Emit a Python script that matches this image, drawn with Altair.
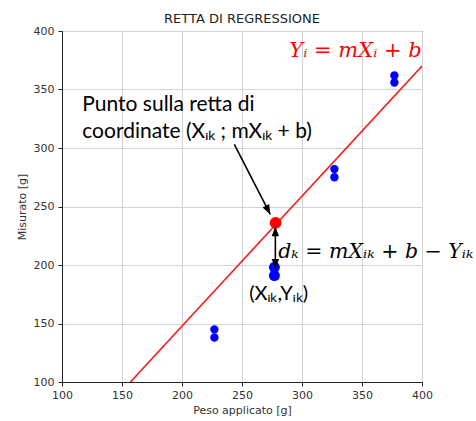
import altair as alt
import pandas as pd

# measured data points
x_vals = [227, 227, 277, 277, 327, 327, 377, 377]
y_vals = [145, 138, 198, 191, 282, 275, 362, 356]

# drawn regression line
line_x = [157, 400]
line_y = [100, 370]

# point on the line
red_x = [278]
red_y = [236]

# arrows (start -> end)
arr_x1 = [243.6, 277.8]
arr_y1 = [303, 232]
arr_x2 = [273.6, 277.8]
arr_y2 = [243.2, 197]
head_x = [273.6, 277.8, 277.8]
head_y = [243.2, 233, 196.7]
head_angle = [153, 0, 180]

# annotations
txt_sans = ["Punto sulla retta di", "coordinate (Xᵢₖ ; mXᵢₖ + b)"]
txt_sans_x = [116.9, 116.9]
txt_sans_y = [331.2, 308.5]

title_text = ["RETTA DI REGRESSIONE"]
title_x = [250]
title_y = [407]

ticks = [100, 150, 200, 250, 300, 350, 400]

pts = pd.DataFrame({"x": x_vals, "y": y_vals})
line_df = pd.DataFrame({"x": line_x, "y": line_y})
red_df = pd.DataFrame({"x": red_x, "y": red_y})
arr_df = pd.DataFrame({"x": arr_x1, "y": arr_y1, "x2": arr_x2, "y2": arr_y2})
head_df = pd.DataFrame({"x": head_x, "y": head_y, "a": head_angle})
sans_df = pd.DataFrame({"x": txt_sans_x, "y": txt_sans_y, "t": txt_sans})
title_df = pd.DataFrame({"x": title_x, "y": title_y, "t": title_text})

xs = alt.Scale(domain=[100, 400], nice=False, zero=False)
ys = alt.Scale(domain=[100, 400], nice=False, zero=False)
X = alt.X("x:Q", scale=xs, title="Peso applicato [g]",
          axis=alt.Axis(values=ticks, format="d", labelFlush=False, labelOverlap=False))
Y = alt.Y("y:Q", scale=ys, title="Misurato [g]",
          axis=alt.Axis(values=ticks, format="d", labelFlush=False, labelOverlap=False))

line = alt.Chart(line_df).mark_line(color="#ff1a1a", strokeWidth=1.6, clip=True).encode(x=X, y=Y)

blue = alt.Chart(pts).mark_circle(color="#0000ff", opacity=1).encode(
    x=alt.X("x:Q", scale=xs), y=alt.Y("y:Q", scale=ys),
    size=alt.condition("datum.x == 277", alt.value(120), alt.value(70)))

red = alt.Chart(red_df).mark_circle(color="#ff0000", opacity=1, size=140).encode(
    x=alt.X("x:Q", scale=xs), y=alt.Y("y:Q", scale=ys))

shafts = alt.Chart(arr_df).mark_rule(color="black", strokeWidth=1.6).encode(
    x=alt.X("x:Q", scale=xs), y=alt.Y("y:Q", scale=ys), x2="x2:Q", y2="y2:Q")

heads = alt.Chart(head_df).mark_point(
    shape="M0,0L-0.38,1L0.38,1Z", filled=True, color="black", opacity=1, size=380
).encode(x=alt.X("x:Q", scale=xs), y=alt.Y("y:Q", scale=ys),
         angle=alt.Angle("a:Q", scale=None))

sans = alt.Chart(sans_df).mark_text(
    font="Lato", fontSize=21, align="left", baseline="alphabetic", color="black"
).encode(x=alt.X("x:Q", scale=xs), y=alt.Y("y:Q", scale=ys), text="t:N")

f1 = alt.Chart(pd.DataFrame({"x": [289.4], "y": [378.2], "t": ["Yᵢ = mXᵢ + b"]})).mark_text(
    font="DejaVu Serif", fontStyle="italic", fontSize=21, align="left",
    baseline="alphabetic", color="#ff0000"
).encode(x=alt.X("x:Q", scale=xs), y=alt.Y("y:Q", scale=ys), text="t:N")

f2 = alt.Chart(pd.DataFrame({"x": [280.2], "y": [205.6], "t": ["dₖ = mXᵢₖ + b − Yᵢₖ"]})).mark_text(
    font="DejaVu Serif", fontStyle="italic", fontSize=20.5, align="left",
    baseline="alphabetic", color="black"
).encode(x=alt.X("x:Q", scale=xs), y=alt.Y("y:Q", scale=ys), text="t:N")

f3 = alt.Chart(pd.DataFrame({"x": [256], "y": [169.7], "t": ["(Xᵢₖ,Yᵢₖ)"]})).mark_text(
    font="Lato", fontSize=20, align="left", baseline="alphabetic", color="black"
).encode(x=alt.X("x:Q", scale=xs), y=alt.Y("y:Q", scale=ys), text="t:N")

ttl = alt.Chart(title_df).mark_text(
    font="DejaVu Sans", fontSize=13, align="center", baseline="alphabetic", color="#222"
).encode(x=alt.X("x:Q", scale=xs), y=alt.Y("y:Q", scale=ys), text="t:N")

chart = alt.layer(line, blue, red, shafts, heads, sans, f1, f2, f3, ttl).properties(
    width=360, height=351,
    autosize=alt.AutoSizeParams(type="none"),
    padding={"left": 62, "top": 31, "right": 54, "bottom": 39},
).configure_view(stroke="#222", strokeWidth=1).configure_axis(
    grid=True, gridColor="#d4d4d4", gridWidth=1,
    domainColor="#222", domainWidth=1, tickColor="#222", tickSize=4,
    labelFont="DejaVu Sans", labelFontSize=11, labelColor="#333",
    titleFont="DejaVu Sans", titleFontSize=11, titleFontWeight="normal", titleColor="#333",
).configure_axisX(labelPadding=3, titlePadding=4).configure_axisY(labelPadding=4, titlePadding=6)

chart.save("out.html", embed_options={"renderer": "svg", "actions": False})
